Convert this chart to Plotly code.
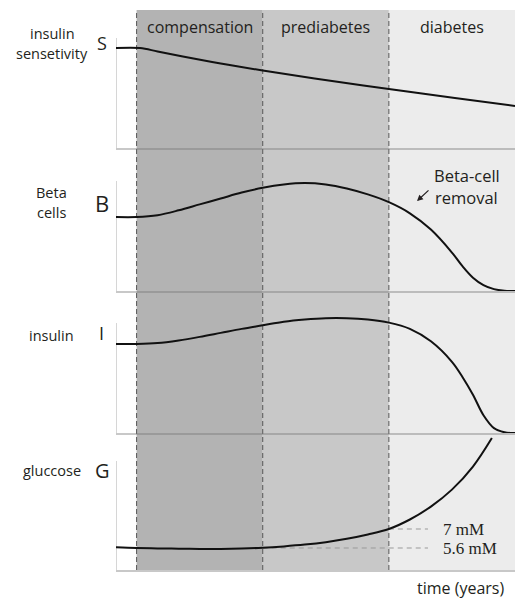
import plotly.graph_objects as go

W, H = 515, 598

# ---------------- data ----------------
stage_names = ["compensation", "prediabetes", "diabetes"]
stage_bounds = [1.0, 4.0, 7.0, 10.0]          # time (years, arbitrary)
stage_colors = ["#b3b3b3", "#c8c8c8", "#ececec"]
time_range = [0.51, 10.0]

# insulin sensitivity
t_S = [0.51, 1.08, 1.5, 2.1, 3.0, 4.0, 5.4, 7.0, 8.57, 10.0]
S = [1.0, 1.0, 0.965, 0.915, 0.845, 0.775, 0.685, 0.59, 0.50, 0.42]

# beta cells
t_B = [0.51, 1.0, 1.5, 2.0, 2.5, 3.0, 3.5, 4.0, 4.5, 5.0, 5.5, 6.0, 6.5, 7.0,
       7.5, 8.0, 8.5, 8.75, 9.0, 9.25, 9.5, 9.75, 10.0]
B = [1.0, 1.0, 1.025, 1.09, 1.17, 1.25, 1.33, 1.395, 1.44, 1.46, 1.44, 1.385,
     1.305, 1.2, 1.05, 0.83, 0.52, 0.335, 0.18, 0.08, 0.025, 0.004, 0.0]

# insulin
t_I = [0.51, 1.0, 1.5, 2.0, 2.5, 3.0, 3.5, 4.0, 4.5, 5.0, 5.5, 6.0, 6.5, 7.0,
       7.5, 8.0, 8.5, 8.75, 9.0, 9.25, 9.5, 9.75, 10.0]
I = [1.0, 1.0, 1.01, 1.04, 1.08, 1.125, 1.17, 1.21, 1.25, 1.275, 1.29, 1.29,
     1.275, 1.24, 1.17, 1.03, 0.80, 0.63, 0.43, 0.2, 0.055, 0.008, 0.0]

# glucose (mM)
t_G = [0.51, 1.0, 1.5, 2.0, 2.5, 3.0, 3.5, 4.0, 4.5, 5.0, 5.5, 6.0, 6.5, 7.0,
       7.5, 8.0, 8.5, 9.0, 9.45]
G = [5.65, 5.6, 5.57, 5.55, 5.53, 5.53, 5.56, 5.62, 5.72, 5.85, 6.03, 6.28, 6.6,
     7.0, 7.7, 8.65, 9.9, 11.6, 13.7]
glucose_thresholds = [5.6, 7.0]
threshold_labels = ["5.6 mM", "7 mM"]
threshold_start_stage = [1, 2]     # index into stage_bounds
threshold_line_end = 7.93
threshold_label_x = 8.24

panel_letters = ["S", "B", "I", "G"]
panel_names = [["insulin", "sensetivity"], ["Beta", "cells"], ["insulin"], ["gluccose"]]
axis_bottoms = [0, 0, 0, 3.98]
axis_tops = [1.1, 1.486, 1.236, 12.0]

# ---------------- layout helpers ----------------
def px(x):
    return x / W

def py(y):
    return 1 - y / H

domains = [[py(148), py(30)], [py(291), py(170)], [py(433), py(305)], [py(570), py(436)]]
yranges = [[0, 1.18], [0, 1.635], [0, 1.438], [3.98, 13.85]]
series = [(t_S, S), (t_B, B), (t_I, I), (t_G, G)]

TXT = "#231f20"
AXC = "rgba(118,118,118,0.4)"
FONT = "Open Sans"

fig = go.Figure()
layout = dict(
    width=W, height=H,
    margin=dict(l=0, r=0, t=0, b=0),
    paper_bgcolor="white", plot_bgcolor="rgba(0,0,0,0)",
    showlegend=False,
)

shapes = []
for k in range(4):
    sx = "" if k == 0 else str(k + 1)
    tx, ty = series[k]
    fig.add_trace(go.Scatter(
        x=tx, y=ty, mode="lines",
        line=dict(color="#111111", width=2, shape="spline", smoothing=1.0),
        xaxis="x" + sx, yaxis="y" + sx, hoverinfo="skip",
    ))
    layout["xaxis" + sx] = dict(
        domain=[px(116), 1], range=time_range, anchor="y" + sx,
        showline=True, linecolor=AXC, linewidth=1.5, showgrid=False,
        zeroline=False, showticklabels=False, ticks="",
    )
    layout["yaxis" + sx] = dict(
        domain=domains[k], range=yranges[k], anchor="x" + sx,
        showline=False, showgrid=False,
        zeroline=False, showticklabels=False, ticks="",
    )
    # left axis line of this panel
    shapes.append(dict(type="line", xref="x" + sx, yref="y" + sx,
                       x0=time_range[0], x1=time_range[0],
                       y0=axis_bottoms[k], y1=axis_tops[k],
                       line=dict(color=AXC, width=1.5), layer="below"))

fig.update_layout(**layout)

# stage shading (drawn first)
stage_shapes = []
for i in range(3):
    stage_shapes.append(dict(type="rect", xref="x", yref="paper",
                             x0=stage_bounds[i], x1=stage_bounds[i + 1],
                             y0=py(570), y1=py(10), fillcolor=stage_colors[i],
                             line=dict(width=0), layer="below"))
for i in range(3):
    stage_shapes.append(dict(type="line", xref="x", yref="paper",
                             x0=stage_bounds[i], x1=stage_bounds[i],
                             y0=py(570), y1=py(10),
                             line=dict(color="#555555", width=1, dash="5px,3px"),
                             layer="below"))
# glucose thresholds
for v, si in zip(glucose_thresholds, threshold_start_stage):
    shapes.append(dict(type="line", xref="x4", yref="y4",
                       x0=stage_bounds[si], x1=threshold_line_end, y0=v, y1=v,
                       line=dict(color="#999999", width=1, dash="5px,4px"),
                       layer="below"))
fig.update_layout(shapes=stage_shapes + shapes)

ann = []
# stage titles
for i, name in enumerate(stage_names):
    ann.append(dict(text=name, xref="x", yref="paper",
                    x=(stage_bounds[i] + stage_bounds[i + 1]) / 2, y=py(27),
                    showarrow=False, font=dict(family=FONT, size=16, color=TXT),
                    xanchor="center", yanchor="middle"))
# panel names
name_pos = [[(52, 34), (52, 53)], [(51, 192), (51, 212)], [(51, 335)], [(51.5, 470)]]
for names, poss in zip(panel_names, name_pos):
    for nm, (x, y) in zip(names, poss):
        ann.append(dict(text=nm, xref="paper", yref="paper", x=px(x), y=py(y),
                        showarrow=False, font=dict(family=FONT, size=14.5, color=TXT),
                        xanchor="center", yanchor="middle"))
# panel letters
letter_pos = [(102, 43, 18), (102, 203, 22), (101, 332.5, 18), (102, 470, 20)]
for L, (x, y, s) in zip(panel_letters, letter_pos):
    ann.append(dict(text=L, xref="paper", yref="paper", x=px(x), y=py(y),
                    showarrow=False, font=dict(family=FONT, size=s, color=TXT),
                    xanchor="center", yanchor="middle"))
# beta-cell removal
for txt, y in [("Beta-cell", 175.5), ("removal", 197)]:
    ann.append(dict(text=txt, xref="paper", yref="paper", x=px(466.5), y=py(y),
                    showarrow=False, font=dict(family=FONT, size=16.5, color=TXT),
                    xanchor="center", yanchor="middle"))
ann.append(dict(text="", xref="paper", yref="paper", x=px(417), y=py(201),
                ax=13, ay=-12, showarrow=True, arrowhead=2, arrowsize=1,
                arrowwidth=1.2, arrowcolor=TXT))
# glucose thresholds labels
for v, lab in zip(glucose_thresholds, threshold_labels):
    ann.append(dict(text=lab, xref="x4", yref="y4", x=threshold_label_x, y=v,
                    showarrow=False,
                    font=dict(family="Liberation Serif", size=17, color=TXT),
                    xanchor="left", yanchor="middle"))
# time label
ann.append(dict(text="time (years)", xref="paper", yref="paper", x=px(460), y=py(588),
                showarrow=False, font=dict(family=FONT, size=16, color=TXT),
                xanchor="center", yanchor="middle"))
fig.update_layout(annotations=ann)

fig.write_html("out.html",
               config={"displayModeBar": False, "staticPlot": True},
               post_script="document.body.style.margin='0px';document.body.style.overflow='hidden';")
